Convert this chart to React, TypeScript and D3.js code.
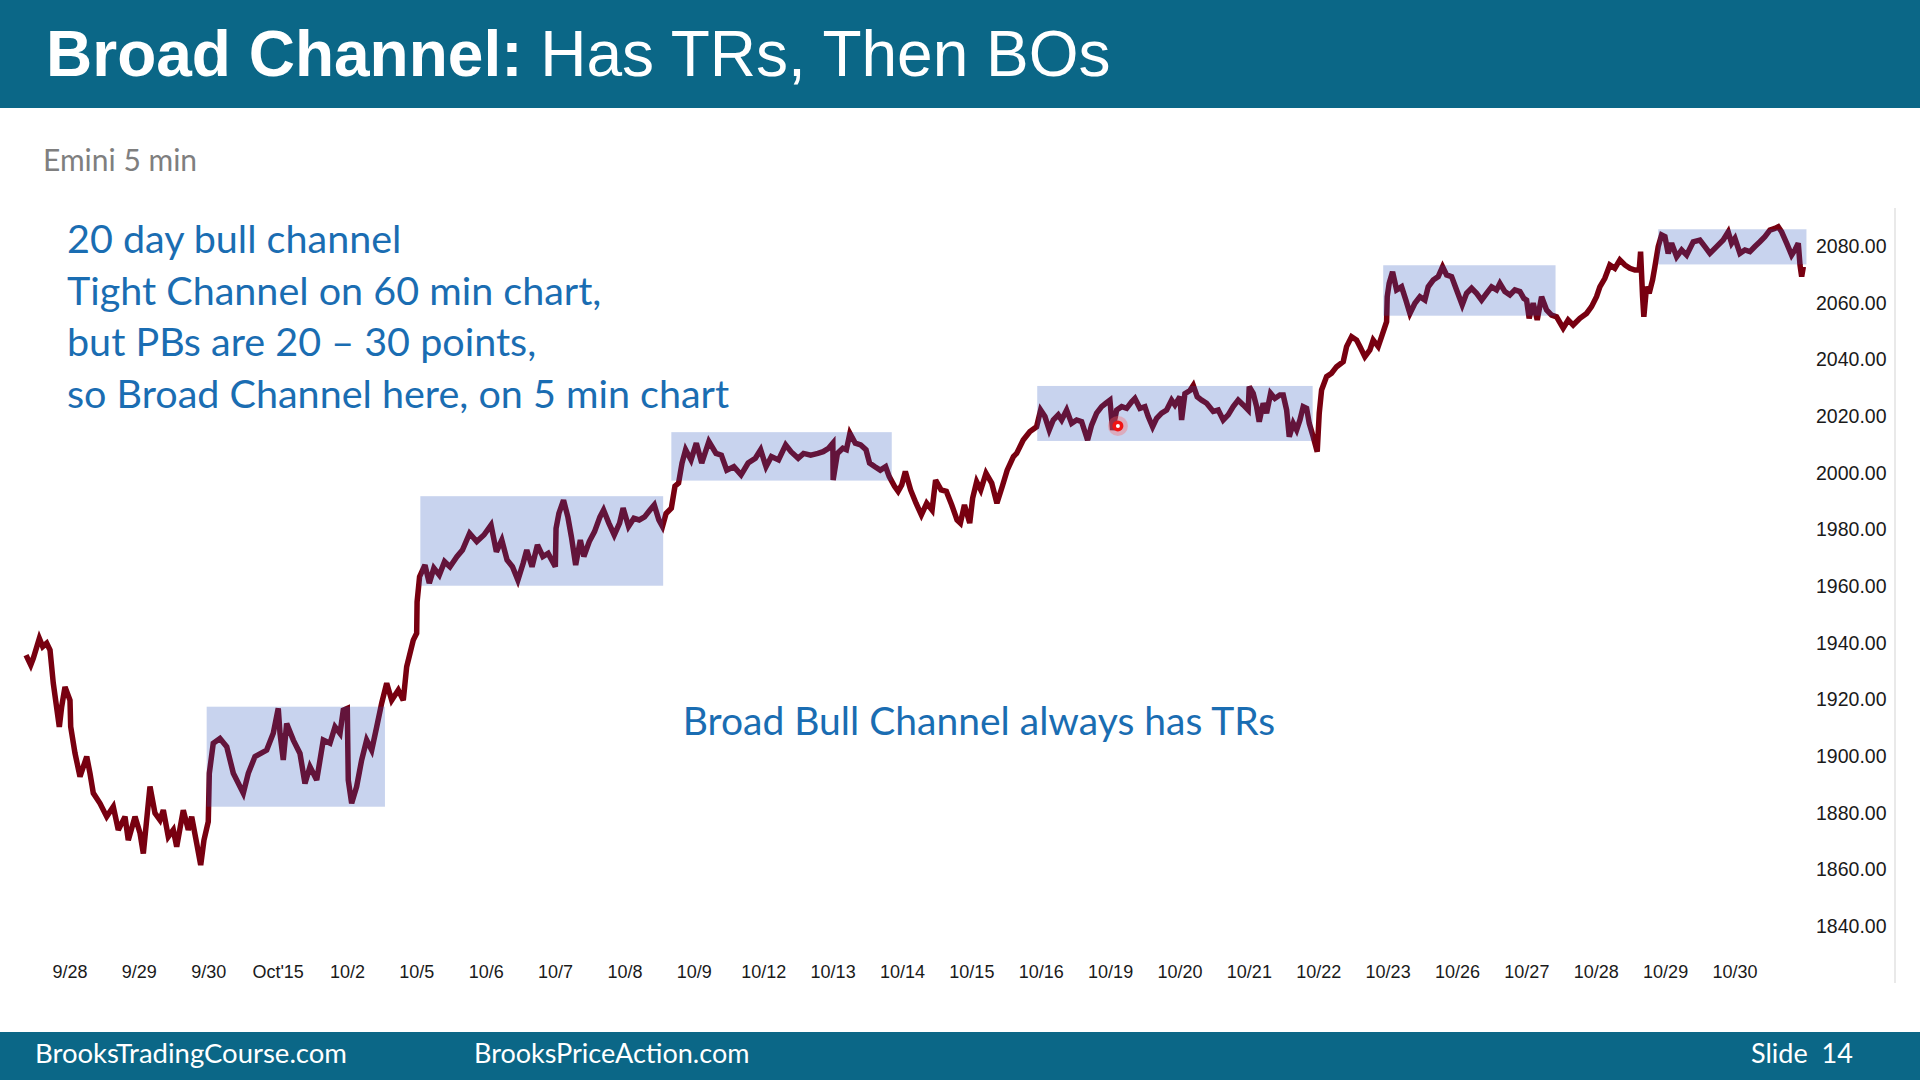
import React from 'react';
import * as d3 from 'd3';

// Session labels (x axis, one per trading session start)
const sessionLabels = ['9/28', '9/29', '9/30', "Oct'15", '10/2', '10/5', '10/6', '10/7', '10/8', '10/9', '10/12', '10/13', '10/14', '10/15', '10/16', '10/19', '10/20', '10/21', '10/22', '10/23', '10/26', '10/27', '10/28', '10/29', '10/30'];

// Price axis ticks
const priceTicks = [1840, 1860, 1880, 1900, 1920, 1940, 1960, 1980, 2000, 2020, 2040, 2060, 2080];

// Emini 5 min price trace: position in sessions (0 = 9/28) and price
const sessionPos = [
  -0.634, -0.566, -0.529, -0.442, -0.393, -0.336, -0.288, -0.241, -0.154, -0.120, -0.072, 0.000, 0.010, 0.072, 0.144, 0.241, 0.288, 0.336, 0.432, 0.529, 0.624, 0.696, 0.793, 0.840, 0.937, 1.009, 1.057, 1.153, 1.225, 1.297, 1.345, 1.417, 1.489, 1.538, 1.633, 1.705, 1.754, 1.826, 1.884, 1.931, 1.993,
  2.008, 2.065, 2.162, 2.259, 2.354, 2.498, 2.570, 2.666, 2.835, 2.930, 3.002, 3.027, 3.074, 3.123, 3.219, 3.315, 3.387, 3.459, 3.556, 3.651, 3.747, 3.820, 3.892, 3.939, 3.997,
  4.011, 4.060, 4.132, 4.204, 4.276, 4.349, 4.421, 4.493, 4.565, 4.637, 4.732, 4.804, 4.853, 4.948, 4.997,
  5.003, 5.039, 5.117, 5.179, 5.245, 5.323, 5.399, 5.477, 5.579, 5.657, 5.760, 5.863, 5.966, 6.069, 6.146, 6.224, 6.300, 6.378, 6.456, 6.532, 6.584, 6.660, 6.738, 6.816, 6.892, 6.996,
  7.006, 7.047, 7.114, 7.176, 7.227, 7.289, 7.356, 7.407, 7.485, 7.561, 7.639, 7.691, 7.767, 7.845, 7.922, 7.973, 8.051, 8.128, 8.205, 8.282, 8.360, 8.422, 8.488, 8.540, 8.592, 8.668, 8.720, 8.772, 8.822, 8.874, 8.952,
  9.028, 9.106, 9.209, 9.312, 9.389, 9.467, 9.569, 9.673, 9.775, 9.879, 9.955, 10.033, 10.110, 10.213, 10.316, 10.393, 10.496, 10.574, 10.676, 10.780, 10.856, 10.934, 10.996,
  11.000, 11.062, 11.140, 11.191, 11.242, 11.320, 11.397, 11.474, 11.525, 11.603, 11.680, 11.757, 11.809, 11.885, 11.937, 11.989, 12.041, 12.117, 12.195, 12.272, 12.349, 12.426, 12.477, 12.556, 12.632, 12.710, 12.786,
  12.834, 12.893, 12.969, 13.011, 13.069, 13.128, 13.204, 13.286, 13.361, 13.439, 13.509, 13.599, 13.645, 13.740, 13.837, 13.933, 13.991, 14.053, 14.115, 14.173, 14.245, 14.294, 14.366, 14.438, 14.510, 14.582, 14.644, 14.668, 14.726, 14.798, 14.870, 14.932, 14.990,
  15.029, 15.087, 15.159, 15.231, 15.303, 15.350, 15.422, 15.494, 15.542, 15.605, 15.663, 15.735, 15.807, 15.879, 15.927, 15.999, 16.023, 16.071, 16.143, 16.191, 16.248, 16.312, 16.384, 16.479, 16.551, 16.623, 16.695, 16.767, 16.839, 16.911, 16.983,
  16.998, 17.055, 17.104, 17.142, 17.199, 17.248, 17.306, 17.368, 17.440, 17.488, 17.537, 17.575, 17.632, 17.681, 17.729, 17.776, 17.825, 17.863, 17.920, 17.978,
  18.007, 18.041, 18.113, 18.185, 18.257, 18.353, 18.401, 18.473, 18.545, 18.593, 18.665, 18.737, 18.785, 18.857, 18.906, 18.978,
  18.987, 19.015, 19.064, 19.122, 19.194, 19.256, 19.314, 19.386, 19.458, 19.530, 19.578, 19.650, 19.722, 19.785, 19.843, 19.915, 19.987, 20.068, 20.131, 20.203, 20.275, 20.347, 20.419, 20.491, 20.563, 20.611, 20.683, 20.755, 20.827, 20.900, 20.957, 20.996,
  21.033, 21.091, 21.149, 21.212, 21.284, 21.356, 21.428, 21.523, 21.595, 21.667, 21.764, 21.860, 21.932, 22.004, 22.052, 22.124, 22.196, 22.268, 22.340, 22.412, 22.485, 22.557, 22.619, 22.639, 22.668, 22.686, 22.725, 22.763, 22.812, 22.845,
  22.893, 22.942, 22.990, 23.037, 23.086, 23.159, 23.231, 23.303, 23.398, 23.494, 23.566, 23.638, 23.735, 23.830, 23.902, 23.951, 23.999, 24.071, 24.143, 24.215, 24.287, 24.359, 24.431, 24.503, 24.575, 24.623, 24.672, 24.744, 24.816, 24.864, 24.912, 24.937, 24.961, 24.985,
];

const price = [
  1935.6, 1932.1, 1934.5, 1941.5, 1938.6, 1939.8, 1937.4, 1925.7, 1910.3, 1917.4, 1924.4, 1919.7, 1910.3, 1901.0, 1892.7, 1899.8, 1893.9, 1886.9, 1883.3, 1878.6, 1882.1, 1873.9, 1878.6, 1870.3, 1878.6, 1872.8, 1865.6, 1889.2, 1879.8, 1877.4, 1880.9, 1871.5, 1873.9, 1868.0, 1880.9, 1873.9, 1878.6, 1869.2, 1861.5, 1870.3, 1876.8,
  1893.9, 1904.5, 1906.2, 1903.3, 1893.9, 1886.9, 1893.9, 1899.8, 1902.1, 1908.0, 1916.8, 1908.0, 1898.6, 1911.5, 1905.6, 1900.9, 1890.3, 1896.2, 1891.5, 1905.6, 1904.5, 1910.3, 1908.0, 1916.2, 1916.8,
  1891.5, 1883.3, 1889.2, 1898.6, 1905.6, 1902.1, 1910.3, 1918.7, 1925.7, 1919.7, 1923.3, 1919.7, 1931.5, 1940.9, 1943.3,
  1954.4, 1963.3, 1967.4, 1961.0, 1966.3, 1963.9, 1968.6, 1966.8, 1970.4, 1972.7, 1978.6, 1975.7, 1978.0, 1981.5, 1972.1, 1976.2, 1969.2, 1966.8, 1962.1, 1968.0, 1972.7, 1966.8, 1974.5, 1970.4, 1971.5, 1966.8,
  1980.3, 1985.6, 1990.3, 1984.4, 1977.4, 1967.4, 1976.2, 1970.4, 1975.7, 1979.2, 1984.4, 1986.8, 1982.2, 1978.0, 1982.2, 1987.5, 1981.0, 1983.9, 1983.3, 1984.4, 1986.8, 1988.6, 1983.3, 1981.0, 1985.6, 1987.5, 1995.2, 1996.3, 2003.4, 2008.1, 2004.5,
  2010.4, 2003.4, 2011.0, 2006.8, 2006.2, 2000.9, 2002.1, 1999.2, 2003.4, 2005.1, 2008.1, 2002.1, 2005.7, 2004.5, 2009.8, 2007.4, 2005.1, 2006.8, 2006.2, 2006.8, 2007.4, 2008.6, 2010.4,
  1997.4, 2006.8, 2008.6, 2008.1, 2013.9, 2010.4, 2009.8, 2008.1, 2003.4, 2002.1, 2000.9, 2002.1, 1998.6, 1995.2, 1993.4, 1995.7, 2000.4, 1993.9, 1989.2, 1985.1, 1989.2, 1986.8, 1997.4, 1993.9, 1993.4, 1988.6, 1983.3,
  1982.2, 1988.6, 1982.2, 1991.0, 1996.8, 1993.9, 1999.8, 1996.3, 1989.2, 1995.2, 2000.9, 2005.7, 2006.8, 2011.5, 2014.5, 2016.2, 2022.1, 2019.8, 2015.1, 2018.6, 2020.4, 2018.6, 2022.1, 2017.4, 2018.6, 2018.0, 2013.3, 2011.5, 2016.8, 2021.0, 2023.3, 2024.5, 2025.6,
  2015.1, 2022.1, 2023.3, 2022.7, 2025.0, 2026.2, 2022.7, 2023.3, 2019.8, 2016.2, 2019.2, 2021.0, 2022.1, 2025.6, 2023.9, 2026.8, 2018.6, 2027.9, 2029.0, 2030.8, 2026.8, 2025.6, 2024.5, 2021.6, 2022.1, 2018.6, 2020.4, 2023.3, 2025.6, 2023.9, 2022.1,
  2030.4, 2028.0, 2023.3, 2018.0, 2024.5, 2021.0, 2028.0, 2026.2, 2027.4, 2027.4, 2022.1, 2012.7, 2017.4, 2015.1, 2018.6, 2023.3, 2022.7, 2017.4, 2012.7, 2007.4,
  2021.0, 2029.2, 2033.9, 2035.1, 2037.4, 2039.2, 2044.5, 2048.0, 2046.8, 2044.5, 2040.9, 2043.3, 2046.8, 2044.5, 2048.0, 2053.3,
  2062.1, 2066.8, 2070.9, 2064.5, 2065.6, 2060.9, 2056.2, 2059.8, 2062.1, 2060.9, 2065.6, 2068.0, 2069.2, 2072.7, 2069.8, 2069.2, 2064.5, 2059.2, 2063.3, 2065.1, 2063.3, 2060.9, 2063.3, 2065.6, 2064.5, 2066.8, 2063.9, 2062.7, 2064.5, 2063.9, 2061.5, 2060.9,
  2054.5, 2059.8, 2053.9, 2062.1, 2057.4, 2055.6, 2055.0, 2051.0, 2053.9, 2052.1, 2054.5, 2056.2, 2058.6, 2062.1, 2065.6, 2068.6, 2073.3, 2072.1, 2075.1, 2073.3, 2072.1, 2071.5, 2071.5, 2078.0, 2062.1, 2055.0, 2065.6, 2063.3, 2068.0, 2072.7,
  2079.8, 2083.9, 2083.3, 2077.4, 2081.0, 2076.2, 2078.6, 2076.8, 2081.5, 2082.1, 2079.8, 2077.4, 2079.8, 2082.1, 2085.0, 2081.0, 2082.7, 2077.4, 2078.6, 2078.0, 2079.8, 2081.5, 2083.3, 2085.6, 2086.2, 2086.8, 2085.0, 2081.0, 2076.8, 2078.6, 2081.0, 2073.3, 2069.2, 2072.7,
];

// Trading ranges (boxes)
const boxStart = [1.970, 5.050, 8.668, 13.942, 18.929, 22.893];
const boxEnd = [4.540, 8.550, 11.845, 17.912, 21.413, 25.030];
const boxHigh = [1917.4, 1991.7, 2014.3, 2030.6, 2073.2, 2085.9];
const boxLow = [1882.1, 1960.1, 1997.2, 2011.2, 2055.4, 2073.5];

// Pointer mark on the slide
const pointerPos = [15.105];
const pointerPrice = [2016.5];

const notes = [
  '20 day bull channel',
  'Tight Channel on 60 min chart,',
  'but PBs are 20 \u2013 30 points,',
  'so Broad Channel here, on 5 min chart',
];

const BAR = '#0b6787';
const BLUE = '#1a6db2';
const ARIAL = '"Liberation Sans", Arial, sans-serif';
const CAL = 'Lato, "Open Sans", sans-serif';

export default function App() {
  const W = 1920;
  const H = 1080;
  const x = d3.scaleLinear().domain([0, 24]).range([70, 1735]);
  const y = d3.scaleLinear().domain([1840, 2080]).range([926, 246]);
  const pts: [number, number][] = sessionPos.map((s, i) => [s, price[i]]);
  const line = d3
    .line<[number, number]>()
    .x((d) => x(d[0]))
    .y((d) => y(d[1]));

  return (
    <svg
      width={W}
      height={H}
      viewBox={`0 0 ${W} ${H}`}
      style={{ position: 'absolute', left: 0, top: 0, background: '#fff' }}
    >
      <rect x={0} y={0} width={W} height={H} fill="#ffffff" />
      {/* header */}
      <rect x={0} y={0} width={W} height={108} fill={BAR} />
      <text x={46} y={76} fontFamily={ARIAL} fontSize={64} fill="#fff">
        <tspan fontWeight="bold">Broad Channel:</tspan>
        <tspan>{'\u00a0Has TRs, Then BOs'}</tspan>
      </text>

      <text x={43} y={171} fontFamily={CAL} fontSize={30} fill="#7f7f7f">
        Emini 5 min
      </text>

      {/* right axis border */}
      <line x1={1895} x2={1895} y1={208} y2={983} stroke="#e2e2e2" strokeWidth={1.5} />

      {/* price line */}
      <path
        d={line(pts) || ''}
        fill="none"
        stroke="#780010"
        strokeWidth={5.5}
        strokeLinejoin="miter"
        strokeMiterlimit={3}
      />

      {/* trading range boxes */}
      {boxStart.map((s, i) => (
        <rect
          key={i}
          x={x(s)}
          y={y(boxHigh[i])}
          width={x(boxEnd[i]) - x(s)}
          height={y(boxLow[i]) - y(boxHigh[i])}
          fill="rgb(35,79,187)"
          fillOpacity={0.25}
        />
      ))}

      {/* pointer */}
      {pointerPos.map((s, i) => (
        <g key={i} transform={`translate(${x(s)},${y(pointerPrice[i])})`}>
          <circle r={10} fill="#ff6060" opacity={0.35} />
          <circle r={5.5} fill="#f01414" />
          <circle r={2} fill="#ffffff" />
        </g>
      ))}

      {/* y axis labels */}
      {priceTicks.map((t) => (
        <text
          key={t}
          x={1816}
          y={y(t) + 7}
          fontFamily={ARIAL}
          fontSize={19.5}
          fill="#1a1a1a"
        >
          {t.toFixed(2)}
        </text>
      ))}

      {/* x axis labels */}
      {sessionLabels.map((l, i) => (
        <text
          key={l}
          x={x(i)}
          y={978}
          textAnchor="middle"
          fontFamily={ARIAL}
          fontSize={18}
          fill="#1a1a1a"
        >
          {l}
        </text>
      ))}

      {/* notes */}
      {notes.map((n, i) => (
        <text key={i} x={67} y={253 + i * 51.6} fontFamily={CAL} fontSize={39.5} fill={BLUE}>
          {n}
        </text>
      ))}
      <text x={979} y={735} textAnchor="middle" fontFamily={CAL} fontSize={39} fill={BLUE}>
        Broad Bull Channel always has TRs
      </text>

      {/* footer */}
      <rect x={0} y={1032} width={W} height={48} fill={BAR} />
      <text x={35} y={1063} fontFamily={CAL} fontSize={27.5} fill="#fff">
        BrooksTradingCourse.com
      </text>
      <text x={474} y={1063} fontFamily={CAL} fontSize={27} fill="#fff">
        BrooksPriceAction.com
      </text>
      <text x={1751} y={1063} fontFamily={CAL} fontSize={27} fill="#fff" style={{ whiteSpace: 'pre' }}>
        {'Slide  14'}
      </text>
    </svg>
  );
}
